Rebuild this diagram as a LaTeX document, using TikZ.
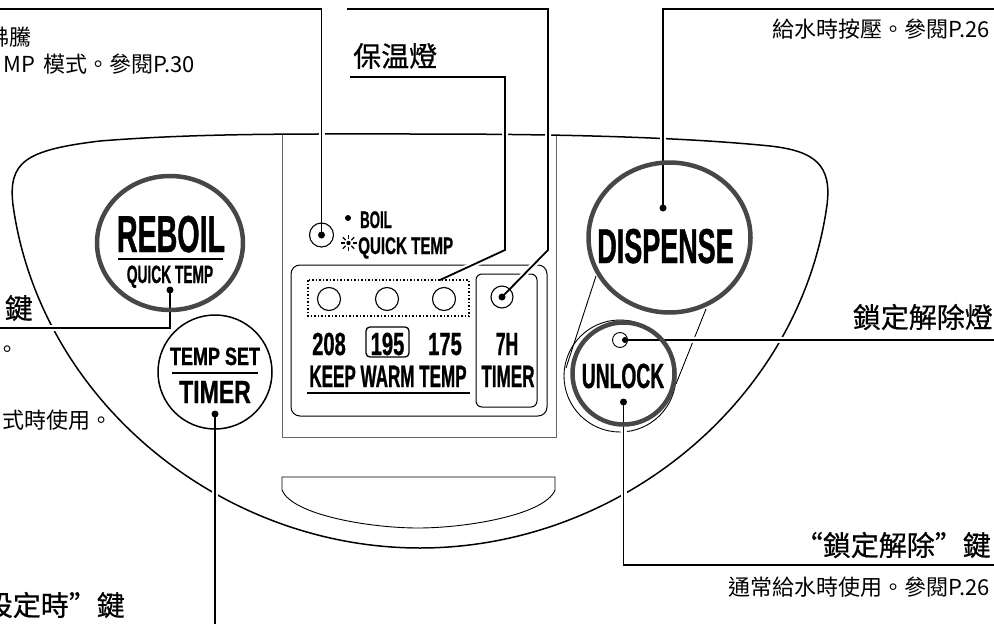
\documentclass[tikz,border=0pt]{standalone}
\usepackage{fontspec}
\newfontfamily\cjk{Noto Sans CJK TC}
\newfontfamily\cjktitle[FakeBold=0.6]{Noto Sans CJK TC}
\newfontfamily\condfont[FakeStretch=0.55,FakeBold=0.8]{Liberation Sans}
\newfontfamily\midcondfont[FakeStretch=0.63,FakeBold=0.8]{Liberation Sans}
\newfontfamily\semicondfont[FakeStretch=0.72,FakeBold=0.8]{Liberation Sans}

\begin{document}
\begin{tikzpicture}
      [x=1pt,y=-1pt,%%%%%%%%%%%%%%%%%%%%%%%%%%%%%%
      leader/.style={line width=1.8pt, preaction={draw=white, line width=6pt}},
      ring/.style={draw=black!72, line width=4.5pt},
      outline/.style={line width=1.5pt},
      thinline/.style={line width=0.9pt},
      led/.style={circle, draw, line width=1.1pt, inner sep=0pt, minimum size=24pt},
      dot/.style={circle, fill, inner sep=0pt, minimum size=7pt},
      title/.style={font=\cjktitle\fontsize{28}{30}\selectfont, inner sep=0pt},
      note/.style={font=\cjk\fontsize{22}{24}\selectfont, inner sep=0pt},
      cond/.style={font=\condfont\bfseries\fontsize{#1}{#1}\selectfont, inner sep=0pt, anchor=base},
      midcond/.style={font=\midcondfont\bfseries\fontsize{#1}{#1}\selectfont, inner sep=0pt, anchor=base},
      semicond/.style={font=\semicondfont\bfseries\fontsize{#1}{#1}\selectfont, inner sep=0pt, anchor=base},
      ]%%%%%%%%%%%%%%%%%%%%%%%%%%%%%%

      \useasboundingbox (0,0) rectangle (994,624);

      % panel
      \draw[outline] (13,205) .. controls (8,162) and (25,150) .. (100,141)
        .. controls (200,133) and (300,134) .. (420,134)
        .. controls (560,134) and (680,137) .. (770,146)
        .. controls (815,151) and (832,165) .. (827,205)
        .. controls (800,400) and (620,548) .. (420,548)
        .. controls (220,548) and (40,400) .. cycle;
      \draw[thinline, black!60] (282,135) -- (282,437) -- (556,437) -- (556,136);
      \draw[line width=1pt, rounded corners=9pt] (291,265) rectangle (547,416);
      \draw[line width=1pt, rounded corners=6pt] (476,274) rectangle (537,407);
      \draw[thinline] (282,477) -- (282,490) .. controls (292,515) and (370,528) .. (418,528)
        .. controls (466,528) and (545,515) .. (555,490) -- (555,477) -- cycle;
      \draw[thinline] (620,376) circle (56pt);
      \draw[thinline] (596,276) -- (566,368);
      \draw[thinline] (706,309) -- (676,384);

      % leader ends
      \coordinate (rledot) at (321.5,235);
      \coordinate (rleend) at (0,9);
      \coordinate (tledot) at (502,297);
      \coordinate (tlbend) at (548,250);
      \coordinate (tlend) at (347,9);
      \coordinate (kwtip) at (440,280);
      \coordinate (kwbend) at (505,250);
      \coordinate (kwend) at (350,77);
      \coordinate (dpdot) at (663,208);
      \coordinate (dpend) at (994,9);
      \coordinate (rbdot) at (170,290);
      \coordinate (rbend) at (0,328);
      \coordinate (tsdot) at (215,414);
      \coordinate (tsend) at (215,624);
      \coordinate (uledot) at (625,340);
      \coordinate (uleend) at (994,340);
      \coordinate (uldot) at (623.5,402);
      \coordinate (ulend) at (994,565);

      \draw[leader] (rledot) |- (rleend);
      \draw[leader] (tledot) -- (tlbend) |- (tlend);
      \draw[leader] (kwtip) -- (kwbend) |- (kwend);
      \draw[leader] (dpdot) |- (dpend);
      \draw[leader] (rbdot) |- (rbend);
      \draw[leader] (tsdot) -- (tsend);
      \draw[leader] (uledot) -- (uleend);
      \draw[leader] (uldot) |- (ulend);

      % buttons
      \draw[ring] (170,243) ellipse (73pt and 67pt);
      \draw[ring] (669.5,237.5) ellipse (81pt and 75pt);
      \draw[ring] (623.5,373.5) circle (51pt);
      \draw[line width=1.5pt] (215,372) circle (57pt);

      \node[cond=52] (reboil) at (171,252) {REBOIL};
      \draw[line width=1.5pt] (118,259) -- (223,259);
      \node[cond=25] (rbquick) at (170,283) {QUICK TEMP};
      \node[semicond=25] (tempset) at (215,365) {TEMP SET};
      \draw[line width=1.5pt] (172,373) -- (258,373);
      \node[semicond=32] (tstimer) at (215,403) {TIMER};
      \node[cond=49] (dispense) at (665.5,263) {DISPENSE};
      \node[cond=35] (unlock) at (623,388) {UNLOCK};

      % display
      \node[led] (rled) at (rledot) {};
      \fill (348,218) circle (3pt);
      \node[cond=24, anchor=base west] (boil) at (360,228) {BOIL};
      \fill (348.5,243) circle (2.2pt);
      \foreach \a in {0,45,...,315}
        \draw[line width=1.2pt] (348.5,243) ++(\a:4pt) -- ++(\a:4pt);
      \node[midcond=24, anchor=base west] (quick) at (358,254) {QUICK TEMP};

      \draw[line width=1.3pt, dash pattern=on 1.5pt off 2pt] (308,280) rectangle (469,316);
      \foreach \x in {329,387,444}
        \draw[line width=1.1pt] (\x,299) circle (11.5pt);
      \node[led, minimum size=22pt] (tled) at (tledot) {};

      \node[midcond=32] (t208) at (329,355) {208};
      \node[midcond=32] (t195) at (387.5,355) {195};
      \draw[line width=1.3pt, rounded corners=4pt] (366,327) rectangle (409,357);
      \node[midcond=32] (t175) at (445,355) {175};
      \node[cond=31] (keepwarm) at (388,387) {KEEP WARM TEMP};
      \draw[line width=1.5pt] (307,393) -- (470,393);
      \node[cond=32] (t7h) at (507,355) {7H};
      \node[cond=31] (dtimer) at (508,387) {TIMER};

      \node[led, minimum size=15pt, line width=0.9pt] (uled) at (620,340) {};

      % dots
      \foreach \p in {rledot,tledot,dpdot,rbdot,tsdot,uldot}
        \node[dot] at (\p) {};
      \node[dot, minimum size=6pt] at (uledot) {};

      % labels
      \node[note, anchor=east] (dpnote) at (990,29) {給水時按壓。參閱P.26};
      \node[title, anchor=west] (kwlabel) at (353,56) {保温燈};
      \node[title, anchor=east] (ullamp) at (993,317) {鎖定解除燈};
      \node[title, anchor=east] (ullabel) at (991,545) {“鎖定解除”鍵};
      \node[note, anchor=east] (ulnote) at (990,587) {通常給水時使用。參閱P.26};
      \node[note, anchor=east] (rbnote1) at (32,37) {沸騰};
      \node[note, anchor=east] (rbnote2) at (195,64) {MP\hspace{8pt}模式。參閱P.30};
      \node[title, anchor=east] (rblabel) at (33,308) {鍵};
      \node[note, anchor=east] (tsnote1) at (19,352) {。};
      \node[note, anchor=east] (tsnote2) at (113,420) {式時使用。};
      \node[title, anchor=east] (tslabel) at (125,605) {設定時”鍵};
    \end{tikzpicture}
\end{document}
